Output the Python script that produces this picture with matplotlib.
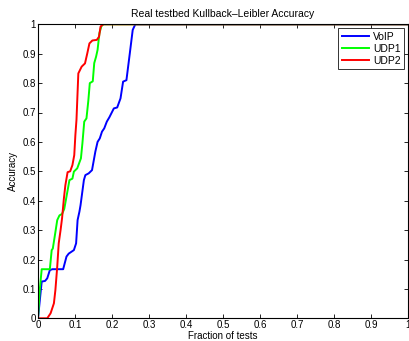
import numpy as np
from matplotlib import pyplot as plt

plt.rc('font', family='Liberation Sans', size=7)
plt.rc('lines', linewidth=1.4)

# curves (x = fraction of tests, y = accuracy)
voip_x = [0.0, 0.010, 0.019, 0.025, 0.032, 0.039, 0.068, 0.077, 0.083, 0.097,
          0.103, 0.107, 0.112, 0.115, 0.124, 0.128, 0.137, 0.146, 0.155, 0.161,
          0.167, 0.173, 0.179, 0.186, 0.193, 0.205, 0.214, 0.223, 0.230, 0.239,
          0.248, 0.256, 0.263, 1.0]
voip_y = [0.0, 0.125, 0.127, 0.136, 0.164, 0.167, 0.167, 0.210, 0.220, 0.232,
          0.255, 0.334, 0.363, 0.385, 0.470, 0.487, 0.493, 0.504, 0.567, 0.600,
          0.612, 0.635, 0.646, 0.669, 0.684, 0.714, 0.717, 0.748, 0.805, 0.810,
          0.900, 0.981, 1.0, 1.0]

udp1_x = [0.0, 0.005, 0.010, 0.032, 0.037, 0.040, 0.046, 0.052, 0.058, 0.065,
          0.071, 0.075, 0.085, 0.093, 0.097, 0.106, 0.116, 0.120, 0.125, 0.131,
          0.136, 0.140, 0.148, 0.152, 0.157, 0.161, 0.166, 0.172, 0.178, 1.0]
udp1_y = [0.0, 0.10, 0.167, 0.167, 0.232, 0.237, 0.285, 0.334, 0.350, 0.355,
          0.372, 0.400, 0.470, 0.475, 0.499, 0.510, 0.544, 0.595, 0.669, 0.680,
          0.740, 0.800, 0.806, 0.868, 0.890, 0.913, 0.970, 0.996, 1.0, 1.0]

udp2_x = [0.0, 0.025, 0.034, 0.043, 0.047, 0.052, 0.056, 0.061, 0.065, 0.070,
          0.074, 0.080, 0.087, 0.093, 0.098, 0.101, 0.104, 0.109, 0.118, 0.127,
          0.133, 0.139, 0.147, 0.159, 0.165, 0.169, 0.176, 1.0]
udp2_y = [0.0, 0.0, 0.017, 0.051, 0.096, 0.176, 0.255, 0.300, 0.340, 0.408,
          0.453, 0.497, 0.500, 0.521, 0.555, 0.623, 0.675, 0.833, 0.856, 0.867,
          0.900, 0.935, 0.945, 0.947, 0.958, 0.992, 1.0, 1.0]

ticks = np.arange(0, 1.01, 0.1)
tick_labels = ['0', '0.1', '0.2', '0.3', '0.4', '0.5', '0.6', '0.7', '0.8', '0.9', '1']

fig = plt.figure(figsize=(4.10, 3.41), dpi=100)
ax = fig.add_axes([38 / 410, 22.7 / 341, 370 / 410, 294 / 341])

ax.plot(voip_x, voip_y, color='#0000ff', label='VoIP')
ax.plot(udp1_x, udp1_y, color='#00ff00', label='UDP1')
ax.plot(udp2_x, udp2_y, color='#ff0000', label='UDP2')

ax.set_xlim(0, 1)
ax.set_ylim(0, 1)
ax.set_xticks(ticks)
ax.set_xticklabels(tick_labels)
ax.set_yticks(ticks)
ax.set_yticklabels(tick_labels)
ax.tick_params(direction='in', top=True, right=True, length=3, width=0.6, pad=1.5)
for sp in ax.spines.values():
    sp.set_linewidth(0.8)

ax.set_title('Real testbed Kullback\u2013Leibler Accuracy', fontsize=7.5, pad=5)
ax.set_xlabel('Fraction of tests', labelpad=0.5)
ax.set_ylabel('Accuracy', labelpad=3)

leg = ax.legend(loc='upper right', fancybox=False, edgecolor='black',
                handlelength=2.6, borderpad=0.35, labelspacing=0.2,
                handletextpad=0.4, borderaxespad=0.35, fontsize=7.5)
leg.get_frame().set_linewidth(0.7)

fig.savefig('out.png', dpi=100)
